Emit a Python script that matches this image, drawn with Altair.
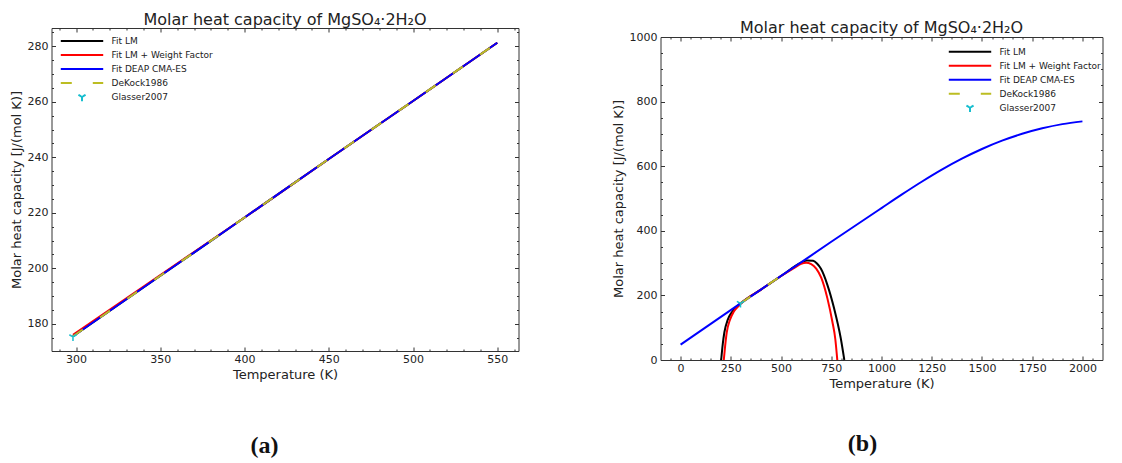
import altair as alt
import pandas as pd

# ---------------- data ----------------
series_names = ["Fit LM", "Fit LM + Weight Factor", "Fit DEAP CMA-ES", "DeKock1986", "Glasser2007"]
series_colors = ["#000000", "#ff0000", "#0000ff", "#bcbd22", "#17becf"]

# panel (a): 298.15 K .. 550 K
a_T = [298.15, 350, 400, 450, 500, 550]
a_lm_cp = [175.5, 197.3, 218.3, 239.4, 260.3, 281.3]
a_wf_cp = [176.0, 197.6, 218.3, 239.4, 260.3, 281.3]
a_deap_cp = [175.5, 197.3, 218.3, 239.4, 260.3, 281.3]
a_dekock_cp = [175.5, 197.3, 218.3, 239.4, 260.3, 281.3]

glasser_T = [298.15]
glasser_cp = [175.3]

# panel (b): 0 K .. 2000 K
b_deap_T = [0, 298.15, 550, 750, 1000, 1100, 1200, 1300, 1400, 1500, 1600, 1700, 1800, 1900, 2000]
b_deap_cp = [47.5, 175.5, 281.3, 366, 470.3, 511.8, 551.8, 589.3, 623.3, 653.3, 679.0, 700.3,
             717.3, 730.3, 738.8]
b_lm_T = [202, 210, 218, 235, 255, 280, 300, 400, 500, 600, 630, 660, 680, 698, 731, 764, 797, 815]
b_lm_cp = [0, 50, 86, 125, 148, 165, 176, 218, 260, 301, 308, 307, 298, 283, 232, 160, 68, 0]
b_wf_T = [215, 222, 230, 246, 265, 290, 310, 400, 500, 570, 600, 625, 650, 675, 700, 731, 755, 770, 780]
b_wf_cp = [0, 45, 86, 125, 150, 168, 180, 218, 260, 287, 298, 301, 297, 283, 255, 190, 120, 65, 0]
b_dekock_T = [298.15, 350, 400, 450, 500, 550]
b_dekock_cp = [175.5, 197.3, 218.3, 239.4, 260.3, 281.3]

# tick positions (major + minor)
a_x_ticks = list(range(290, 561, 10))
a_y_ticks = list(range(175, 286, 5))
b_x_ticks = list(range(-50, 2051, 50))
b_y_ticks = list(range(0, 1001, 50))

title_text = "Molar heat capacity of MgSO\u2084\u00b72H\u2082O"


def make_df(pairs):
    rows = []
    for name, ts, cps in pairs:
        for i, (t, c) in enumerate(zip(ts, cps)):
            rows.append({"T": t, "cp": c, "series": name, "i": i})
    return pd.DataFrame(rows)


GLASSER_PATH = "M0,0L0,1M0,0L-0.866,-0.5M0,0L0.866,-0.5"
LEGEND_SHAPE = ("datum.value == 'Glasser2007' ? "
                "'M0,0L0,0.2M0,0L-0.17,-0.1M0,0L0.17,-0.1' : 'stroke'")
LEGEND_DASH = "datum.value == 'DeKock1986' ? [11,21] : [1,0]"
FONT = "DejaVu Sans"


def color_enc(lx, ly):
    return alt.Color(
        "series:N",
        scale=alt.Scale(domain=series_names, range=series_colors),
        legend=alt.Legend(
            title=None, orient="none", legendX=lx, legendY=ly,
            symbolType={"expr": LEGEND_SHAPE},
            symbolDash={"expr": LEGEND_DASH},
            symbolSize=1800, symbolStrokeWidth=2,
            labelFont=FONT, labelFontSize=9, labelColor="#222",
            labelOffset=7, clipHeight=13.5, rowPadding=0, padding=0,
        ),
    )


def tick_axis(orient, values, major, title=None, labels=True, pad=6):
    kw = dict(
        orient=orient, values=values,
        tickSize={"expr": "-4"},
        tickDash={"condition": {"test": f"datum.value % {major} != 0", "value": [2, 10]},
                  "value": [4, 0]},
        tickColor="#333", tickWidth=1,
        domain=False, grid=False, labelFlush=False, labelOverlap=False,
    )
    if labels:
        kw.update(labels=True, format="d",
                  labelExpr=f"datum.value % {major} == 0 ? datum.label : ''",
                  labelFont=FONT, labelFontSize=11, labelColor="#222", labelPadding=pad,
                  title=title, titleFont=FONT, titleFontSize=13, titleFontWeight="normal",
                  titleColor="#222", titlePadding=4)
    else:
        kw.update(labels=False, title=None)
    return alt.Axis(**kw)


def panel(df, gl_df, xdom, ydom, xt, xmaj, yt, ymaj, w, h, lx, ly, cap, cap_x, cap_y, toff):
    xs = alt.Scale(domain=xdom, nice=False, zero=False)
    ys = alt.Scale(domain=ydom, nice=False, zero=False)
    x_main = alt.X("T:Q", scale=xs, axis=tick_axis("bottom", xt, xmaj, "Temperature (K)", pad=6))
    y_main = alt.Y("cp:Q", scale=ys,
                   axis=tick_axis("left", yt, ymaj, "Molar heat capacity [J/(mol K)]", pad=7.5))
    x_none = alt.X("T:Q", scale=xs, axis=None)
    y_none = alt.Y("cp:Q", scale=ys, axis=None)
    x_top = alt.X("T:Q", scale=xs, axis=tick_axis("top", xt, xmaj, labels=False))
    y_right = alt.Y("cp:Q", scale=ys, axis=tick_axis("right", yt, ymaj, labels=False))
    col = color_enc(lx, ly)

    def sub(name):
        return alt.Chart(df[df.series == name])

    black = sub("Fit LM").mark_line(strokeWidth=2, interpolate="monotone").encode(
        x=x_main, y=y_main, color=col, order="i:Q")
    red = sub("Fit LM + Weight Factor").mark_line(strokeWidth=2, interpolate="monotone").encode(
        x=x_none, y=y_none, color=col, order="i:Q")
    blue = sub("Fit DEAP CMA-ES").mark_line(strokeWidth=2, interpolate="monotone").encode(
        x=x_none, y=y_none, color=col, order="i:Q")
    dek = sub("DeKock1986").mark_line(strokeWidth=2, strokeDash=[12, 21]).encode(
        x=x_none, y=y_none, color=col, order="i:Q")
    gl = alt.Chart(gl_df).mark_point(shape=GLASSER_PATH, size=70, filled=False,
                                     strokeWidth=1.5, opacity=1).encode(
        x=x_top, y=y_right, color=col)

    cap_df = pd.DataFrame({"cap": [cap]})
    caption = alt.Chart(cap_df).mark_text(font="Liberation Serif", fontSize=24,
                                          fontWeight="bold", color="#111").encode(
        x=alt.value(cap_x), y=alt.value(cap_y), text="cap:N")

    return alt.layer(black, red, blue, dek, gl, caption).properties(
        width=w, height=h,
        title=alt.TitleParams(title_text, font=FONT, fontSize=16, fontWeight="normal",
                              color="#222", offset={"expr": str(toff)}, anchor="middle"),
    )


def spacer(h):
    return alt.Chart(pd.DataFrame({"s": [0]})).mark_rule(opacity=0, strokeWidth=0).encode(
        x=alt.value(0), x2=alt.value(1), y=alt.value(0), y2=alt.value(0)
    ).properties(width=1, height=h, view=alt.ViewBackground(stroke="transparent"))


df_a = make_df([
    ("Fit LM", a_T, a_lm_cp),
    ("Fit LM + Weight Factor", a_T, a_wf_cp),
    ("Fit DEAP CMA-ES", a_T, a_deap_cp),
    ("DeKock1986", a_T, a_dekock_cp),
])
df_b = make_df([
    ("Fit LM", b_lm_T, b_lm_cp),
    ("Fit LM + Weight Factor", b_wf_T, b_wf_cp),
    ("Fit DEAP CMA-ES", b_deap_T, b_deap_cp),
    ("DeKock1986", b_dekock_T, b_dekock_cp),
])
gl_df = pd.DataFrame({"T": glasser_T, "cp": glasser_cp, "series": ["Glasser2007"]})

chart_a = panel(df_a, gl_df, [285.4, 562.6], [170.2, 286.6], a_x_ticks, 50, a_y_ticks, 20,
                467, 323, 8, 25.25, "(a)", 213, 418, -2)
chart_b = panel(df_b, gl_df, [-100, 2100], [0, 1000], b_x_ticks, 250, b_y_ticks, 200,
                442, 323, 287, 36, "(b)", 202, 407, -5)

col_a = alt.vconcat(spacer(1), chart_a, spacing=0)
col_b = alt.vconcat(spacer(9), chart_b, spacing=0)

chart = alt.hconcat(col_a, col_b, spacing=92).resolve_scale(
    color="independent").resolve_legend(color="independent").properties(
    padding={"left": 1.5, "top": 0, "right": 0, "bottom": 0}
).configure_view(stroke="#333", strokeWidth=1)

chart.save("out.html", embed_options={"renderer": "svg", "actions": False})
